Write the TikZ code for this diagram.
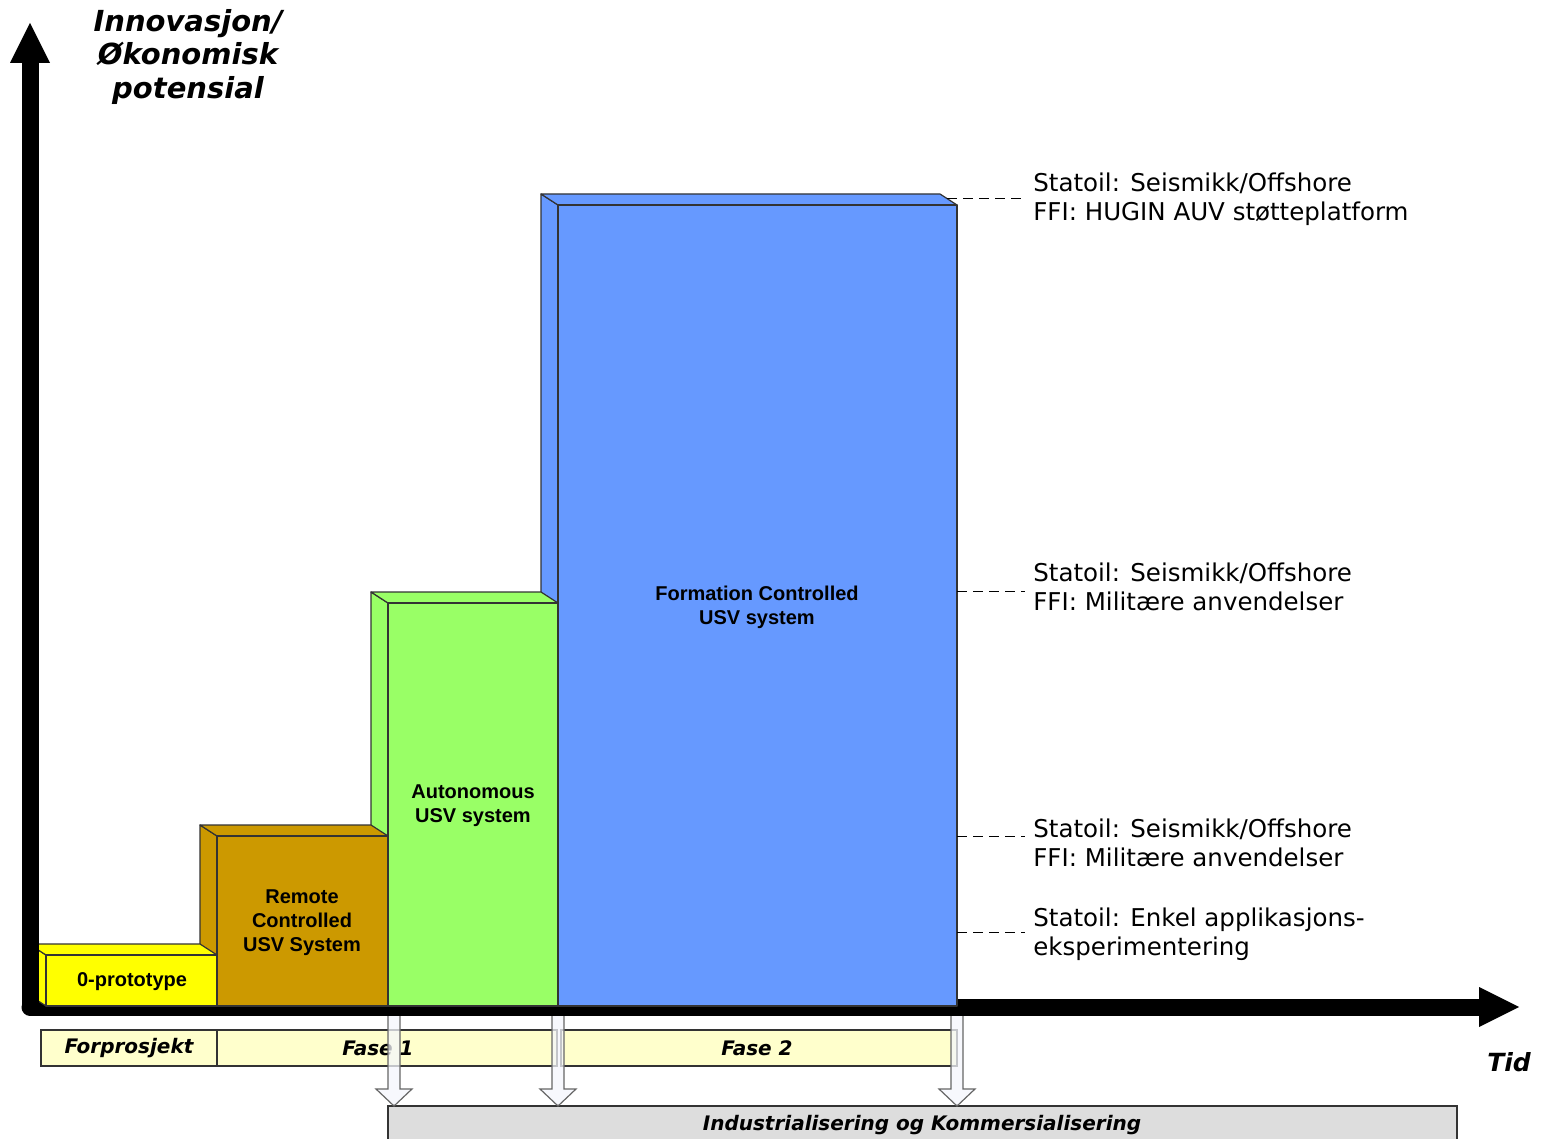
\documentclass[tikz,border=0pt]{standalone}
\usepackage{fontspec}
\setmainfont{DejaVu Sans}
\newfontfamily\arialfont{Liberation Sans}
\usetikzlibrary{arrows.meta}
\definecolor{protoyellow}{HTML}{FFFF00}
\definecolor{remotebrown}{HTML}{CC9900}
\definecolor{autogreen}{HTML}{99FF66}
\definecolor{formblue}{HTML}{6699FF}
\definecolor{phasecream}{HTML}{FFFFCC}
\definecolor{industrygrey}{HTML}{DDDDDD}
\definecolor{edgegrey}{HTML}{333333}
\definecolor{hollowfill}{HTML}{F4F6FC}
% 3D block: left x, right x, top y, colour
\newcommand{\usvblock}[4]{%
  \filldraw[blockedge,fill=#4] (#1,1006) -- (#1,#3) -- (#1-17,#3-11) -- (#1-17,995) -- cycle;
  \filldraw[blockedge,fill=#4] (#1,#3) -- (#2,#3) -- (#2-17,#3-11) -- (#1-17,#3-11) -- cycle;
  \filldraw[blockedge,fill=#4] (#1,#3) rectangle (#2,1006);
}
\begin{document}
\begin{tikzpicture}[x=0.5pt,y=-0.5pt]
\tikzset{blockedge/.style={draw=edgegrey,line width=0.6pt,line join=round},
  axisline/.style={line width=8.5pt,line cap=round,-{Triangle[width=20pt,length=20pt,line width=0pt]}},
  blocktext/.style={font=\arialfont\bfseries\fontsize{10}{12}\selectfont,align=center},
  usetext/.style={font=\fontsize{12.25}{14.5}\selectfont,align=left,anchor=west,inner xsep=4pt,inner ysep=0pt},
  phasebox/.style={draw=edgegrey,fill=phasecream,line width=0.6pt},
  phasetext/.style={font=\bfseries\itshape\fontsize{10}{12}\selectfont},
  leader/.style={dash pattern=on 5pt off 3pt,line width=0.5pt},
  hollow/.style={draw=gray!80!black,fill=hollowfill,fill opacity=0.75,line width=0.6pt}}
\useasboundingbox (0,0) rectangle (1543,1139);
% phases
\draw[phasebox] (41,1030) rectangle (217,1066);
\draw[phasebox] (217,1030) rectangle (557,1066);
\draw[phasebox] (561,1030) rectangle (957,1066);
\node (forpro) at (129,1048) [phasetext] {Forprosjekt};
\node (fase1) at (378,1048) [phasetext] {Fase 1};
\node (fase2) at (757,1048) [phasetext] {Fase 2};
\draw[phasebox,fill=industrygrey] (388,1106) rectangle (1457,1145);
\node (industri) at (922,1125) [phasetext] {Industrialisering og Kommersialisering};
\foreach \ax in {394,558,957}
  \filldraw[hollow] (\ax-6,1012) -- (\ax+6,1012) -- (\ax+6,1089) -- (\ax+18,1089)
    -- (\ax,1106) -- (\ax-18,1089) -- (\ax-6,1089) -- cycle;
% axes and blocks
\draw[axisline] (30,1007) -- (1519,1007);
\usvblock{558}{957}{205}{formblue}
\usvblock{388}{558}{603}{autogreen}
\usvblock{217}{388}{836}{remotebrown}
\usvblock{46}{217}{955}{protoyellow}
\draw[axisline] (30,1007) -- (30,23);
\node (proto) at (132,982) [blocktext] {0-prototype};
\node (remote) at (302,923) [blocktext] {Remote\\Controlled\\USV System};
\node (auto) at (473,806) [blocktext] {Autonomous\\USV system};
\node (formation) at (757,607) [blocktext] {Formation Controlled\\USV system};
\node (ylabel) at (188,57) [font=\bfseries\itshape\fontsize{14.5}{16.75}\selectfont,align=center] {Innovasjon/\\Økonomisk\\potensial};
\node (xlabel) at (1509,1062) [font=\bfseries\itshape\fontsize{12.5}{15}\selectfont] {Tid};
% applications
\coordinate (b1) at (947,199);
\coordinate (b2) at (957,591);
\coordinate (b3) at (957,836);
\coordinate (b4) at (957,932);
\node (use1) at (1025,199) [usetext] {Statoil: Seismikk/Offshore\\FFI: HUGIN AUV støtteplatform};
\node (use2) at (1025,587) [usetext] {Statoil: Seismikk/Offshore\\FFI: Militære anvendelser};
\node (use3) at (1025,843) [usetext] {Statoil: Seismikk/Offshore\\FFI: Militære anvendelser};
\node (use4) at (1025,934) [usetext] {Statoil: Enkel applikasjons-\\eksperimentering};
\foreach \b/\u in {b1/use1,b2/use2,b3/use3,b4/use4}
  \draw[leader] (\b) -- (\b -| \u.west);
\end{tikzpicture}
\end{document}
